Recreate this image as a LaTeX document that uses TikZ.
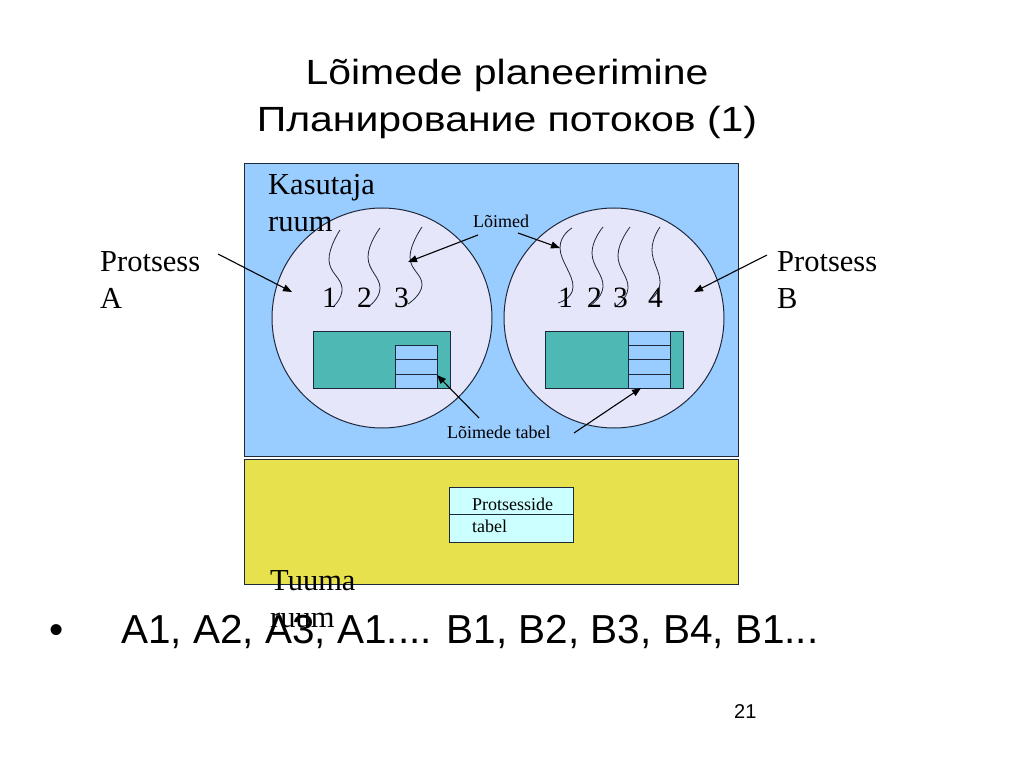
\documentclass[tikz,border=0pt]{standalone}
\usepackage{fontspec}
\setmainfont{Liberation Serif}
\newfontfamily\sansf{Liberation Sans}
\newfontfamily\titlef[FakeStretch=1.17]{Liberation Sans}
\usetikzlibrary{arrows.meta}
\definecolor{userblue}{RGB}{153,204,255}
\definecolor{kernyel}{RGB}{230,225,76}
\definecolor{proclav}{RGB}{230,230,250}
\definecolor{tealbox}{RGB}{77,184,180}
\definecolor{ptcyan}{RGB}{204,255,255}
\definecolor{edge}{RGB}{30,40,60}
\begin{document}
\begin{tikzpicture}[x=1pt,y=-1pt,
  txt/.style={inner sep=0pt, anchor=base west},
  titletxt/.style={inner sep=0pt, anchor=base, font=\titlef\fontsize{35}{47}\selectfont},
  bigserif/.style={txt, align=left, font=\fontsize{30.5}{37}\selectfont},
  digit/.style={txt, font=\fontsize{29.5}{37}\selectfont},
  smallserif/.style={txt, font=\fontsize{18}{22}\selectfont},
  bullettxt/.style={txt, font=\sansf\fontsize{40.5}{48}\selectfont},
  region/.style={draw=edge, line width=1pt},
  thread/.style={draw=edge, line width=0.8pt},
  pointer/.style={draw=black, line width=1.1pt, -{Triangle[length=9pt,width=7pt]}}
]
\useasboundingbox[fill=white] (0,0) rectangle (1023,767);

% title
\node[titletxt] (t1) at (507,85) {Lõimede planeerimine};
\node[titletxt] (t2) at (507,132) {Планирование потоков (1)};

% regions
\path[region, fill=userblue] (244,164) rectangle (738,456);
\path[region, fill=kernyel] (244,459) rectangle (738,584);

% processes
\node[circle, region, fill=proclav, minimum size=220pt, inner sep=0pt] (pa) at (382,318) {};
\node[circle, region, fill=proclav, minimum size=220pt, inner sep=0pt] (pb) at (614,318) {};

% thread tables A
\path[region, fill=tealbox] (313,332) rectangle (450,388);
\path[region, fill=userblue] (395,346) rectangle (437,388);
\draw[region] (395,360) -- (437,360) (395,374) -- (437,374);
% thread tables B
\path[region, fill=tealbox] (545,332) rectangle (683,388);
\path[region, fill=userblue] (628,332) rectangle (670,388);
\draw[region] (628,346) -- (670,346) (628,360) -- (670,360) (628,374) -- (670,374);

% threads A
\draw[thread] plot[smooth, tension=0.8] coordinates {(340,230) (329,260) (342,288) (333,307)};
\draw[thread] plot[smooth, tension=0.8] coordinates {(380,228) (368,257) (380,288) (368,307)};
\draw[thread] plot[smooth, tension=0.8] coordinates {(422,227) (410,257) (422,285) (408,304)};
% threads B
\draw[thread] plot[smooth, tension=0.8] coordinates {(572,228) (560,248) (573,287) (558,303)};
\draw[thread] plot[smooth, tension=0.8] coordinates {(603,227) (592,253) (603,287) (588,307)};
\draw[thread] plot[smooth, tension=0.8] coordinates {(630,227) (618,255) (628,288) (615,307)};
\draw[thread] plot[smooth, tension=0.8] coordinates {(660,227) (652,250) (660,283) (650,300)};

% digits
\node[digit] (a1) at (322,308) {1};
\node[digit] (a2) at (357,308) {2};
\node[digit] (a3) at (394,308) {3};
\node[digit] (b1) at (558,308) {1};
\node[digit] (b2) at (587,308) {2};
\node[digit] (b3) at (613,308) {3};
\node[digit] (b4) at (648,308) {4};

% labels (anchor = baseline of last line)
\node[bigserif] (user) at (268,232) {Kasutaja\\ruum};
\node[bigserif] (kern) at (270,627) {Tuuma\\ruum};
\node[bigserif] (procA) at (100,309) {Protsess\\A};
\node[bigserif] (procB) at (777,309) {Protsess\\B};
\node[smallserif] (thr) at (473,228) {Lõimed};
\node[smallserif] (ttab) at (447,438) {Lõimede tabel};

% process table
\path[region, fill=ptcyan] (449,487) rectangle (573,542);
\draw[region] (449,514) -- (573,514);
\node[smallserif] (pt1) at (472,510) {Protsesside};
\node[smallserif] (pt2) at (472,532) {tabel};

% arrows
\coordinate (pAs) at (218,254); \coordinate (pAe) at (292,292);
\coordinate (pBs) at (767,255); \coordinate (pBe) at (694,292);
\coordinate (l1s) at (478,235); \coordinate (l1e) at (408,262);
\coordinate (l2s) at (518,233); \coordinate (l2e) at (560,248);
\coordinate (ta1s) at (479,418); \coordinate (ta1e) at (437,375);
\coordinate (ta2s) at (574,433); \coordinate (ta2e) at (641,388);
\draw[pointer] (pAs) -- (pAe);
\draw[pointer] (pBs) -- (pBe);
\draw[pointer] (l1s) -- (l1e);
\draw[pointer] (l2s) -- (l2e);
\draw[pointer] (ta1s) -- (ta1e);
\draw[pointer] (ta2s) -- (ta2e);

% bullet line
\node[bullettxt] (dot) at (49,643) {•};
\node[bullettxt] (seq) at (121,643) {A1, A2, A3, A1.... B1, B2, B3, B4, B1...};
\node[txt, font=\sansf\fontsize{20}{24}\selectfont] (pg) at (734,718) {21};
\end{tikzpicture}
\end{document}
